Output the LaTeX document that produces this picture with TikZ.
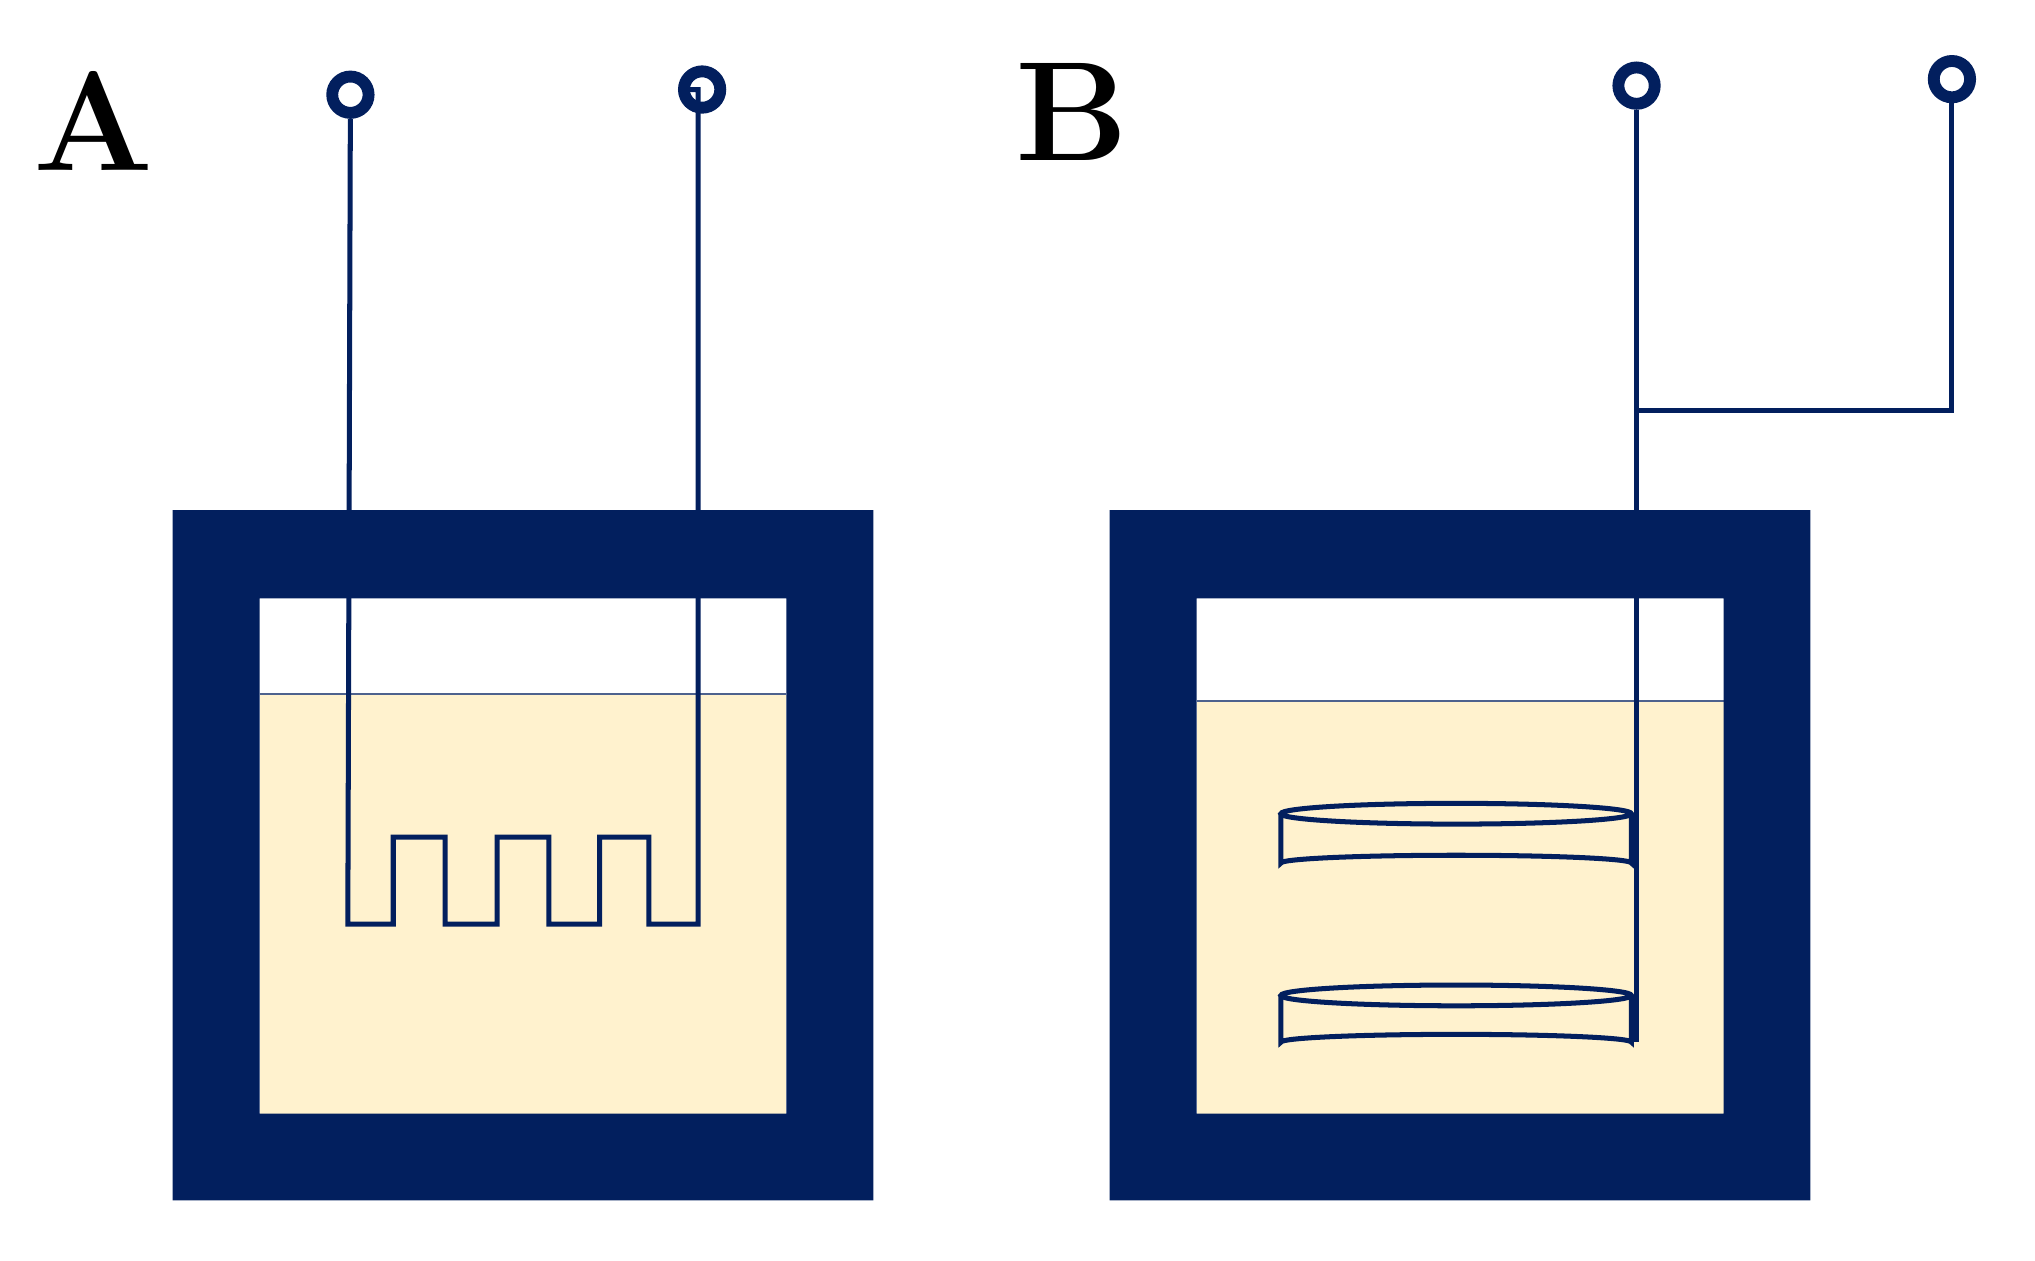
\documentclass[tikz,border=0pt]{standalone}
\usepackage{tikz}
\definecolor{navy}{RGB}{2,31,94}
\definecolor{liquid}{RGB}{255,242,206}
\begin{document}
\begin{tikzpicture}[x=0.01cm,y=-0.01cm,
    wire/.style={navy,line width=1.1pt},
    term/.style={circle,draw=navy,fill=white,line width=2.6pt,minimum size=0.28cm,inner sep=0pt},
    lbl/.style={font=\fontsize{31}{31}\selectfont\bfseries}]
	\useasboundingbox (0,0) rectangle (1568,971);
	% cells
	\foreach \x/\ly in {133/535, 855/540}{
		\fill[liquid] ({\x+67},\ly) rectangle ({\x+473},858);
		\draw[navy!70,line width=0.4pt] ({\x+67},\ly) -- ({\x+473},\ly);
		\fill[navy,even odd rule] (\x,393) rectangle ({\x+540},925)
			({\x+67},461) rectangle ({\x+473},858);
	}
	\node[lbl] (A) at (72,93) {A};
	\node[lbl] (B) at (826,86) {B};
	% terminals
	\foreach \n/\x/\y in {ta/270/73, tb/541/69, tc/1261/66, td/1504/61}{
		\node[term] (\n) at (\x,\y) {};
	}
	% comb electrode
	\draw[wire] (ta) -- (268,712) -- (303,712) -- (303,645) -- (343,645) -- (343,712)
		-- (383,712) -- (383,645) -- (423,645) -- (423,712) -- (462,712) -- (462,645)
		-- (500,645) -- (500,712) -- (538,712) |- (tb);
	% disc electrode
	\coordinate (jn) at (1261,316);
	\draw[wire] (tc) -- (1261,803);
	\draw[wire] (jn) -| (td);
	\foreach \t/\b in {627/665, 767/803}{
		\fill[liquid] (987,\t) rectangle (1257,\b);
		\fill[liquid] (1122,\b) ellipse (135 and 6);
		\draw[wire] (987,\t) -- (987,\b) arc (180:360:135 and 6) -- (1257,\t);
		\draw[wire] (1122,\t) ellipse (135 and 8);
	}
\end{tikzpicture}
\end{document}
